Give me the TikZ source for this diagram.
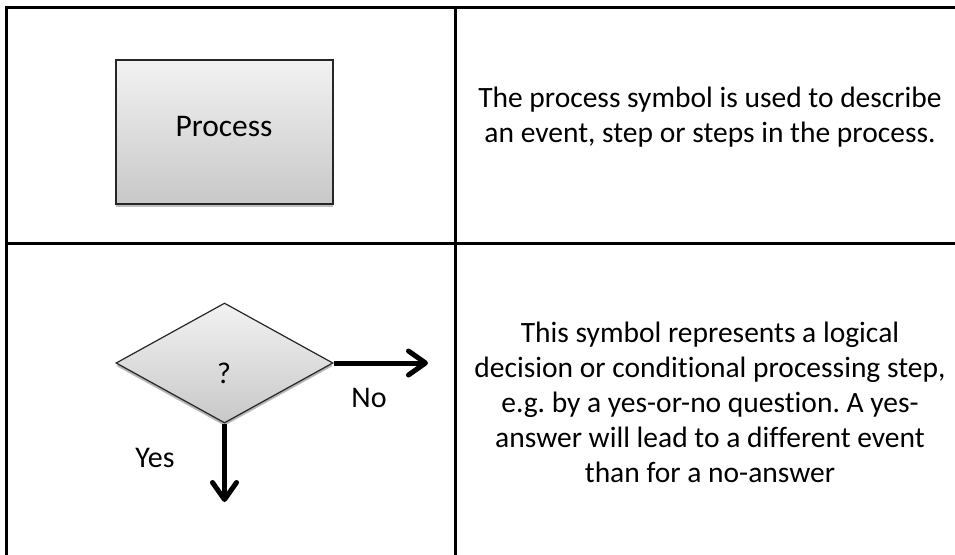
\documentclass[tikz,border=0pt]{standalone}
\usepackage{fontspec}
\setmainfont[Ligatures=NoCommon]{Carlito}
\usetikzlibrary{shapes.geometric,arrows.meta,shadows}
\definecolor{gtop}{RGB}{242,242,242}
\definecolor{gbot}{RGB}{200,200,200}
\tikzset{
  tline/.style={line width=3pt, line cap=rect},
  shapebox/.style={top color=gtop, bottom color=gbot, draw=black!85, line width=1.5pt,
     drop shadow={shadow xshift=0pt, shadow yshift=-3pt, opacity=0.25, fill=black}},
  flowarrow/.style={line width=5pt, -{Straight Barb[length=17pt,width=24pt,round]}},
  desc/.style={align=center, font=\fontsize{29.5}{35}\selectfont, inner sep=0pt},
  lbl/.style={font=\fontsize{30}{34}\selectfont, inner sep=0pt}
}
\begin{document}
\frenchspacing
\begin{tikzpicture}[x=1pt,y=-1pt]
\useasboundingbox (0,0) rectangle (955,554);
\fill[white] (0,0) rectangle (955,554);
% table lines
\draw[tline] (6,7) -- (960,7);
\draw[tline] (6,243) -- (960,243);
\draw[tline] (6,7) -- (6,560);
\draw[tline] (455,7) -- (455,560);
% process
\node[shapebox, rectangle, minimum width=217pt, minimum height=144pt, inner sep=0pt] (proc) at (224.5,132) {};
\node[lbl, font=\fontsize{31.5}{36}\selectfont] (proctext) at (224,127) {Process};
% decision
\node[shapebox, diamond, minimum width=217pt, minimum height=120pt, inner sep=0pt, line width=1.2pt, drop shadow={shadow xshift=0pt, shadow yshift=-2pt, opacity=0.2}] (dec) at (224.5,363) {};
\node[lbl] (q) at (224,373) {?};
\coordinate (noend) at (428,363);
\coordinate (yesend) at (224.5,502);
\draw[flowarrow] (dec.east) -- (noend);
\draw[flowarrow] (dec.south) -- (yesend);
\node[lbl] (no) at (369,398) {No};
\node[lbl] (yes) at (155,458) {Yes};
% descriptions
\node[desc] (d1) at (710,117) {The process symbol is used to describe\\an event, step or steps in the process.};
\node[desc] (d2) at (710,402) {This symbol represents a logical\\decision or conditional processing step,\\e.g. by a yes-or-no question. A yes-\\answer will lead to a different event\\than for a no-answer};
\end{tikzpicture}
\end{document}
